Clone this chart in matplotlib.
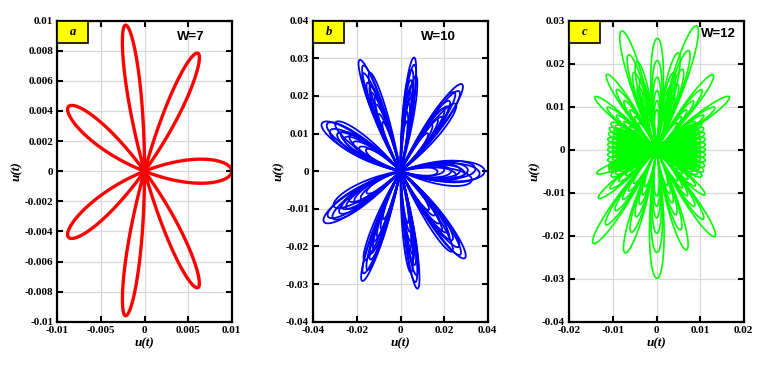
import numpy as np
import matplotlib
matplotlib.use("Agg")
import matplotlib.pyplot as plt
from matplotlib.patches import Rectangle

# petal tips (data units)
a_tip_x = [0.0100, 0.0062, -0.0022, -0.0088, -0.0088, -0.0022, 0.0062]
a_tip_y = [0.0000, 0.0078, 0.0097, 0.0042, -0.0043, -0.0096, -0.0077]
a_nest = [1.0]
a_shift = [0.0]

b_tip_x = [0.0386, 0.0285, 0.0063, -0.0189, -0.0362, -0.0353, -0.0177, 0.0079, 0.0298]
b_tip_y = [0.0000, 0.0229, 0.0302, 0.0295, 0.0125, -0.0132, -0.0291, -0.0312, -0.0229]
b_nest = [1.0, 0.94, 0.89, 0.85, 0.8, 0.76, 0.71, 0.66, 0.6, 0.52, 0.44]
b_shift = [0.0, -1.0, 1.0, -4.0, 0.5, -1.0, 0.5, -2.5, 0.0, 1.0, -0.5]   # degrees

c_tip_x = [-0.0141, -0.0114, -0.0080, -0.0045, 0.0002, 0.0050, 0.0092, 0.0130, 0.0167,
           -0.0137, -0.0133, -0.0145, -0.0072, 0.0001, 0.0069, 0.0134, 0.0111]
c_tip_y = [0.0123, 0.0175, 0.0276, 0.0205, 0.0259, 0.0225, 0.0288, 0.0174, 0.0123,
           -0.0055, -0.0113, -0.0218, -0.0240, -0.0299, -0.0233, -0.0202, -0.0105]
c_nest = [1.0, 0.8, 0.65, 0.53, 0.44, 0.36]
c_shift = [0.0, 0.0, 0.0, 0.0, 0.0, 0.0]

c_core_x = [0.0104, 0.0108, 0.0110, 0.0112, 0.0112, 0.0112, 0.0112, 0.0112, 0.0110, 0.0108, 0.0104,
            -0.0104, -0.0108, -0.0110, -0.0112, -0.0112, -0.0112, -0.0112, -0.0112, -0.0110, -0.0108, -0.0104]
c_core_y = [0.0062, 0.0050, 0.0038, 0.0025, 0.0012, 0.0000, -0.0012, -0.0025, -0.0038, -0.0050, -0.0062,
            0.0062, 0.0050, 0.0038, 0.0025, 0.0012, 0.0000, -0.0012, -0.0025, -0.0038, -0.0050, -0.0062]
c_core_nest = [1.0, 0.9, 0.8, 0.7]

panels = [
    dict(letter="a", w="W=7", color="#ff0000", lw=2.4,
         groups=[(a_tip_x, a_tip_y, a_nest, a_shift, 7)],
         xlim=(-0.01, 0.01), ylim=(-0.01, 0.01),
         xt=[-0.01, -0.005, 0, 0.005, 0.01], xl=["-0.01", "-0.005", "0", "0.005", "0.01"],
         yt=[-0.01, -0.008, -0.006, -0.004, -0.002, 0, 0.002, 0.004, 0.006, 0.008, 0.01],
         yl=["-0.01", "-0.008", "-0.006", "-0.004", "-0.002", "0", "0.002", "0.004", "0.006", "0.008", "0.01"],
         wpos=(0.767, 0.947)),
    dict(letter="b", w="W=10", color="#0000ff", lw=1.3,
         groups=[(b_tip_x, b_tip_y, b_nest, b_shift, 8)],
         xlim=(-0.04, 0.04), ylim=(-0.04, 0.04),
         xt=[-0.04, -0.02, 0, 0.02, 0.04], xl=["-0.04", "-0.02", "0", "0.02", "0.04"],
         yt=[-0.04, -0.03, -0.02, -0.01, 0, 0.01, 0.02, 0.03, 0.04],
         yl=["-0.04", "-0.03", "-0.02", "-0.01", "0", "0.01", "0.02", "0.03", "0.04"],
         wpos=(0.72, 0.947)),
    dict(letter="c", w="W=12", color="#00ff00", lw=1.2,
         groups=[(c_tip_x, c_tip_y, c_nest, c_shift, 10),
                 (c_core_x, c_core_y, c_core_nest, [0, 0, 0, 0], 7)],
         xlim=(-0.02, 0.02), ylim=(-0.04, 0.03),
         xt=[-0.02, -0.01, 0, 0.01, 0.02], xl=["-0.02", "-0.01", "0", "0.01", "0.02"],
         yt=[-0.04, -0.03, -0.02, -0.01, 0, 0.01, 0.02, 0.03],
         yl=["-0.04", "-0.03", "-0.02", "-0.01", "0", "0.01", "0.02", "0.03"],
         wpos=(0.857, 0.956)),
]


def petal(tx, ty, k, frac, shift):
    L = np.hypot(tx, ty) * frac
    ang = np.arctan2(ty, tx) + np.deg2rad(shift)
    phi = np.linspace(-np.pi / (2 * k), np.pi / (2 * k), 120)
    r = L * np.cos(k * phi)
    return r * np.cos(phi + ang), r * np.sin(phi + ang)


serif = "Liberation Serif"
fig = plt.figure(figsize=(7.68, 3.66), dpi=100)
lefts = [57.3, 313.3, 569.3]
for left, p in zip(lefts, panels):
    ax = fig.add_axes([left / 768, 1 - 321.7 / 366, 174.4 / 768, 301 / 366])
    for tx_list, ty_list, nest, shift, k in p["groups"]:
        for tx, ty in zip(tx_list, ty_list):
            for f, s in zip(nest, shift):
                x, y = petal(tx, ty, k, f, s)
                ax.plot(x, y, color=p["color"], lw=p["lw"])
    ax.set_xlim(p["xlim"])
    ax.set_ylim(p["ylim"])
    ax.set_xticks(p["xt"])
    ax.set_xticklabels(p["xl"])
    ax.set_yticks(p["yt"])
    ax.set_yticklabels(p["yl"])
    for lab in ax.get_xticklabels() + ax.get_yticklabels():
        lab.set_fontfamily(serif)
        lab.set_fontweight("bold")
        lab.set_fontsize(8)
    ax.tick_params(direction="in", length=4, width=1.5, top=True, right=True, pad=3)
    ax.grid(True, color="#d9d9d9", lw=0.9)
    ax.set_axisbelow(True)
    for sp in ax.spines.values():
        sp.set_linewidth(1.6)
    ax.set_xlabel("u(t)", family=serif, fontweight="bold", style="italic", fontsize=9.5, labelpad=2)
    ax.set_ylabel("u(t)", family=serif, fontweight="bold", style="italic", fontsize=9.5, labelpad=1)
    ax.add_patch(Rectangle((0, 0.927), 0.178, 0.073, transform=ax.transAxes,
                           facecolor="#ffff00", edgecolor="black", lw=1.2, zorder=5))
    ax.text(0.089, 0.963, p["letter"], transform=ax.transAxes, ha="center", va="center",
            family=serif, fontweight="bold", style="italic", fontsize=9, zorder=6)
    ax.text(p["wpos"][0], p["wpos"][1], p["w"], transform=ax.transAxes, ha="center", va="center",
            family="Liberation Sans", fontweight="bold", fontsize=9.5)

fig.savefig("out.png", dpi=100)
